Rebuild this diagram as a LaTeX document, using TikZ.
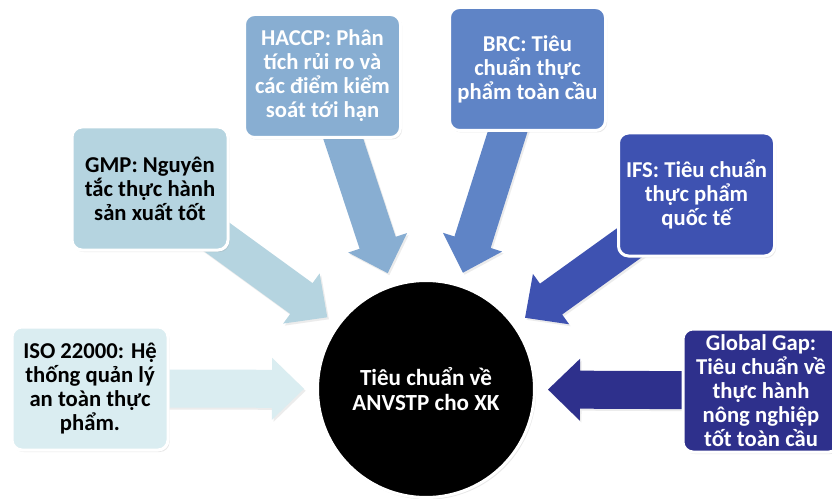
\documentclass[tikz,border=0pt]{standalone}
\usepackage{fontspec}
\setmainfont{Carlito}
\usetikzlibrary{calc,shadows,backgrounds}
\definecolor{cISO}{HTML}{DAEDF1}
\definecolor{cGMP}{HTML}{B5D4E0}
\definecolor{cHACCP}{HTML}{88AED2}
\definecolor{cBRC}{HTML}{5F84C6}
\definecolor{cIFS}{HTML}{3E52B1}
\definecolor{cGG}{HTML}{2E308C}
\tikzset{
  stdbox/.style={rectangle, rounded corners=7.5pt, minimum width=117pt,
    minimum height=92.25pt, inner sep=0pt, draw=white, line width=2.25pt,
    align=center, font=\fontsize{17pt}{18pt}\selectfont\bfseries,
    drop shadow={shadow xshift=1.2pt, shadow yshift=-1.5pt, opacity=0.18}},
  hubnode/.style={circle, minimum size=162.75pt, inner sep=0pt, fill=black,
    draw=white, line width=2.25pt, text=white, align=center,
    font=\fontsize{17.3pt}{18.8pt}\selectfont\bfseries,
    drop shadow={shadow xshift=1.2pt, shadow yshift=-1.5pt, opacity=0.18}},
  arrowshadow/.style={drop shadow={shadow xshift=1.2pt, shadow yshift=-1.5pt, opacity=0.15}}
}
\newcommand\fatarrow[2]{%
  \coordinate (#1-t) at ($(hub.center)!91.5pt!(#1.center)$);
  \coordinate (#1-h) at ($(hub.center)!115.5pt!(#1.center)$);
  \fill[#2, arrowshadow] ($(#1.center)!14.25pt!90:(hub.center)$)
    -- ($(#1-h)!14.25pt!90:(hub.center)$)
    -- ($(#1-h)!23.25pt!90:(hub.center)$)
    -- (#1-t)
    -- ($(#1-h)!23.25pt!-90:(hub.center)$)
    -- ($(#1-h)!14.25pt!-90:(hub.center)$)
    -- ($(#1.center)!14.25pt!-90:(hub.center)$) -- cycle;
}
\begin{document}
\begin{tikzpicture}[x=0.75pt,y=-0.75pt]
\useasboundingbox (0,0) rectangle (832,499);
\node[hubnode] (hub) at (426,389) {Tiêu chuẩn về\\ANVSTP cho XK};
\node[stdbox, fill=cISO, text=black] (iso) at (90,388.5) {ISO 22000: Hệ\\thống quản lý\\an toàn thực\\phẩm.};
\node[stdbox, fill=cGMP, text=black] (gmp) at (150,188.5) {GMP: Nguyên\\tắc thực hành\\sản xuất tốt};
\node[stdbox, fill=cHACCP, text=white] (haccp) at (322.5,76) {HACCP: Phân\\tích rủi ro và\\các điểm kiểm\\soát tới hạn};
\node[stdbox, fill=cBRC, text=white] (brc) at (527.5,69) {BRC: Tiêu\\chuẩn thực\\phẩm toàn cầu};
\node[stdbox, fill=cIFS, text=white] (ifs) at (696.5,194.5) {IFS: Tiêu chuẩn\\thực phẩm\\quốc tế};
\node[stdbox, fill=cGG, text=white] (gg) at (761,390.5) {Global Gap:\\Tiêu chuẩn về\\thực hành\\nông nghiệp\\tốt toàn cầu};
\begin{scope}[on background layer]
  \fill[white] (0,0) rectangle (832,499);
  \fatarrow{iso}{cISO}
  \fatarrow{gmp}{cGMP}
  \fatarrow{haccp}{cHACCP}
  \fatarrow{brc}{cBRC}
  \fatarrow{ifs}{cIFS}
  \fatarrow{gg}{cGG}
\end{scope}
\end{tikzpicture}
\end{document}
